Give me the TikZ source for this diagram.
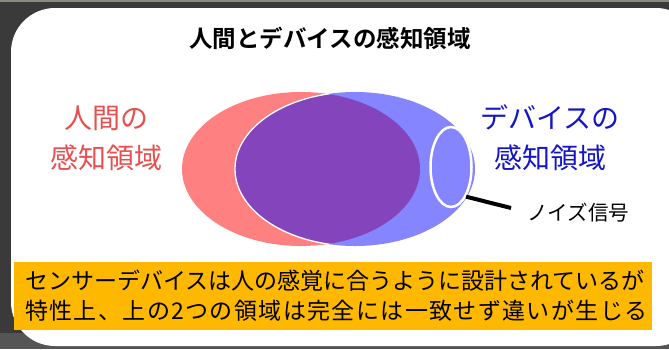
\documentclass[tikz,border=0pt]{standalone}
\usepackage{fontspec}
\setmainfont{Noto Sans CJK JP}[BoldFont={Noto Sans CJK JP Bold}]
\newfontfamily\jpwide{Noto Sans CJK JP}[LetterSpace=6]
\usetikzlibrary{shapes.geometric}
\definecolor{bgdark}{HTML}{3A3A3A}
\definecolor{bgmid}{HTML}{555555}
\definecolor{topstrip}{HTML}{8A8A80}
\definecolor{redfill}{HTML}{FF8080}
\definecolor{bluefill}{HTML}{8585FF}
\definecolor{purplefill}{HTML}{8444BC}
\definecolor{orangebox}{HTML}{FFB800}
\definecolor{redtext}{HTML}{E85050}
\definecolor{bluetext}{HTML}{1414C8}
\tikzset{
  sidelabel/.style={align=center, inner sep=0pt, font=\fontsize{28}{40}\selectfont},
  notelabel/.style={inner sep=0pt, font=\fontsize{20.5}{24}\selectfont},
  boxline/.style={anchor=west, inner sep=0pt, font=\fontsize{23}{28}\selectfont},
}
\begin{document}
\begin{tikzpicture}[x=1pt,y=-1pt]
\useasboundingbox (0,0) rectangle (669,349);
\fill[bgdark] (0,0) rectangle (669,349);
\fill[topstrip] (0,0) rectangle (669,2);
\fill[bgmid] (0,333) rectangle (669,349);
\fill[white, rounded corners=44pt] (11,8) rectangle (700,346);
% Venn
\fill[redfill] (301,169) ellipse [x radius=119pt, y radius=77pt];
\fill[bluefill] (355,169) ellipse [x radius=120pt, y radius=77pt];
\begin{scope}
  \clip (301,169) ellipse [x radius=119pt, y radius=77pt];
  \fill[purplefill] (355,169) ellipse [x radius=120pt, y radius=77pt];
\end{scope}
\begin{scope}
  \clip (301,169) ellipse [x radius=119pt, y radius=77pt];
  \draw[white, line width=1.3pt] (355,169) ellipse [x radius=120pt, y radius=77pt];
\end{scope}
\node[ellipse, draw=white, line width=2.5pt, fill=bluefill, minimum width=41pt, minimum height=80pt, inner sep=0pt] (noise) at (451,167) {};
\coordinate (lineend) at (511,208);
\draw[black, line width=4pt] (noise.-63) -- (lineend);
% texts
\node[inner sep=0pt, font=\bfseries\fontsize{23.5}{28}\selectfont] (title) at (330,38) {人間とデバイスの感知領域};
\node[sidelabel, text=redtext] (human) at (106,138) {人間の\\感知領域};
\node[sidelabel, text=bluetext] (device) at (550,138) {デバイスの\\感知領域};
\node[notelabel, anchor=west] (noiselabel) at (527,213) {ノイズ信号};
% bottom box
\fill[orangebox] (14,262) rectangle (652,330);
\node[boxline] (noteA) at (25,281) {センサーデバイスは人の感覚に合うように設計されているが};
\node[boxline, font=\jpwide\fontsize{23}{28}\selectfont] (noteB) at (25,311) {特性上、上の2つの領域は完全には一致せず違いが生じる};
\end{tikzpicture}
\end{document}
